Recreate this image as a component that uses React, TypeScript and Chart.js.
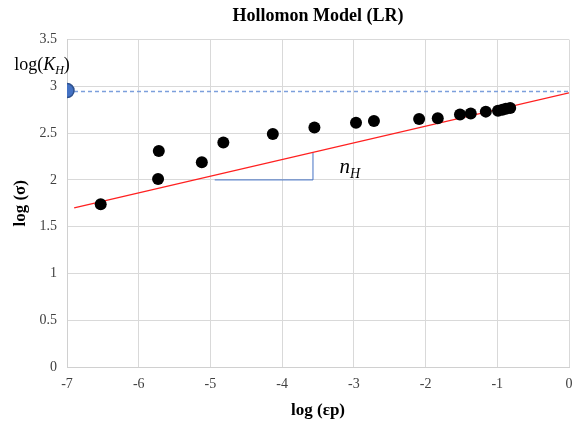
import React, { useEffect, useRef } from 'react';
import { Chart, registerables } from 'chart.js';
Chart.register(...registerables);

// Data
const logStrain = [-6.53, -5.73, -5.72, -5.12, -4.82, -4.13, -3.55, -2.97, -2.72, -2.09, -1.83, -1.52, -1.37, -1.16, -0.99, -0.93, -0.88, -0.82];
const logStress = [1.74, 2.01, 2.31, 2.19, 2.40, 2.49, 2.56, 2.61, 2.63, 2.65, 2.66, 2.70, 2.71, 2.73, 2.74, 2.75, 2.76, 2.77];
const fitX = [-6.9, 0];
const fitY = [1.70, 2.93];
const khLineX = [-7, 0];
const khLineY = [2.945, 2.945];
const khPointX = [-7];
const khPointY = [2.955];
const triX = [-4.94, -3.57, -3.57];
const triY = [2.0, 2.0, 2.29];
const xRange = [-7, 0];
const yRange = [0, 3.5];
const labelKH = { x: -6.96, y: 3.17 };
const labelNH = { x: -3.2, y: 2.076 };

const SERIF = "'Liberation Serif', 'Times New Roman', serif";

const zip = (xs: number[], ys: number[]) => xs.map((x, i) => ({ x, y: ys[i] }));

const annotationPlugin = {
  id: 'annot',
  afterDraw(chart: any) {
    const { ctx, scales } = chart;
    const xs = scales.x, ys = scales.y;
    ctx.save();
    ctx.fillStyle = '#000';
    ctx.textBaseline = 'alphabetic';
    // log(K_H)
    {
      const big = `18px ${SERIF}`;
      const bigI = `italic 18px ${SERIF}`;
      const sub = `italic 12px ${SERIF}`;
      const parts = [
        { t: 'log(', f: big, dy: 0 },
        { t: 'K', f: bigI, dy: 0 },
        { t: 'H', f: sub, dy: 4 },
        { t: ')', f: big, dy: 0 },
      ];
      let total = 0;
      parts.forEach(p => { ctx.font = p.f; total += ctx.measureText(p.t).width; });
      let px = xs.getPixelForValue(labelKH.x) - total;
      const py = ys.getPixelForValue(labelKH.y);
      parts.forEach(p => { ctx.font = p.f; ctx.fillText(p.t, px, py + p.dy); px += ctx.measureText(p.t).width; });
    }
    // n_H
    {
      let px = xs.getPixelForValue(labelNH.x);
      const py = ys.getPixelForValue(labelNH.y);
      ctx.font = `italic 21px ${SERIF}`;
      ctx.fillText('n', px, py);
      px += ctx.measureText('n').width;
      ctx.font = `italic 14px ${SERIF}`;
      ctx.fillText('H', px, py + 5);
    }
    ctx.restore();
  },
};

export default function App() {
  const ref = useRef<HTMLCanvasElement>(null);
  useEffect(() => {
    document.body.style.margin = '0';
    const chart = new Chart(ref.current!, {
      type: 'scatter',
      data: {
        datasets: [
          {
            label: 'data',
            data: zip(logStrain, logStress),
            backgroundColor: '#000',
            borderColor: '#000',
            borderWidth: 0,
            pointRadius: 6,
            order: 0,
          },
          {
            label: 'KH point',
            data: zip(khPointX, khPointY),
            backgroundColor: '#4472C4',
            borderColor: '#2F528F',
            borderWidth: 1.5,
            pointRadius: 7,
            order: 1,
          },
          {
            label: 'fit',
            type: 'line',
            data: zip(fitX, fitY),
            borderColor: '#ff2020',
            borderWidth: 1.3,
            pointRadius: 0,
            showLine: true,
            fill: false,
            order: 2,
          },
          {
            label: 'KH line',
            type: 'line',
            data: zip(khLineX, khLineY),
            borderColor: '#7c9fdc',
            borderWidth: 1.4,
            borderDash: [4, 3],
            pointRadius: 0,
            showLine: true,
            fill: false,
            order: 3,
          },
          {
            label: 'slope',
            type: 'line',
            data: zip(triX, triY),
            borderColor: '#4472C4',
            borderWidth: 1,
            pointRadius: 0,
            showLine: true,
            fill: false,
            tension: 0,
            order: 4,
          },
        ],
      },
      options: {
        animation: false,
        responsive: false,
        layout: { autoPadding: false, padding: { left: 0, right: 5, top: 0, bottom: 0 } },
        plugins: {
          legend: { display: false },
          tooltip: { enabled: false },
          title: {
            display: true,
            fullSize: false,
            text: 'Hollomon Model (LR)',
            color: '#000',
            font: { family: SERIF, size: 18, weight: 'bold' },
            padding: { top: 6, bottom: 12 },
          },
        },
        scales: {
          x: {
            type: 'linear',
            min: xRange[0],
            max: xRange[1],
            ticks: {
              stepSize: 1,
              color: '#404040',
              font: { family: SERIF, size: 14 },
              padding: 0,
              callback: (v: any) => String(v),
            },
            grid: { color: '#d9d9d9', lineWidth: 1, drawTicks: true, tickLength: 9, tickColor: 'rgba(0,0,0,0)' },
            border: { color: '#d0d0d0' },
            title: {
              display: true,
              text: 'log (εp)',
              color: '#000',
              font: { family: SERIF, size: 17, weight: 'bold' },
              padding: { top: 2, bottom: 9 },
            },
            afterFit: (s: any) => { s.height = 63; },
          },
          y: {
            type: 'linear',
            min: yRange[0],
            max: yRange[1],
            ticks: {
              stepSize: 0.5,
              color: '#404040',
              font: { family: SERIF, size: 14 },
              padding: 10,
              callback: (v: any) => String(v),
            },
            grid: { color: '#d9d9d9', lineWidth: 1, drawTicks: false },
            border: { color: '#d0d0d0' },
            title: {
              display: true,
              text: 'log (σ)',
              color: '#000',
              font: { family: SERIF, size: 17, weight: 'bold' },
              padding: { top: 10, bottom: 2 },
            },
            afterFit: (s: any) => { s.width = 67; },
          },
        },
      },
      plugins: [annotationPlugin],
    } as any);
    return () => chart.destroy();
  }, []);
  return <canvas ref={ref} width={574} height={430} style={{ display: 'block' }} />;
}
